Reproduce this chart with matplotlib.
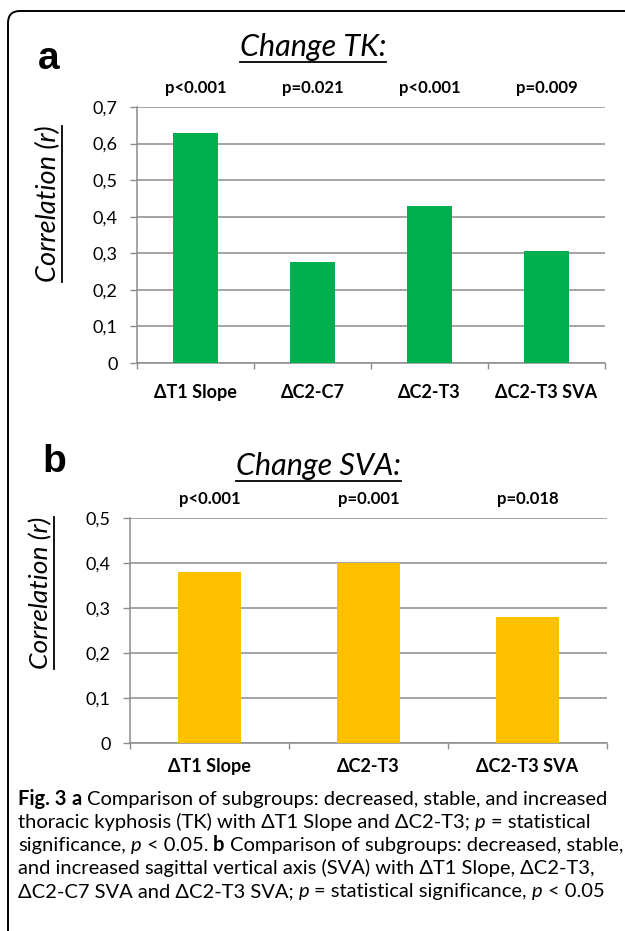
import matplotlib
matplotlib.use('Agg')
import matplotlib.pyplot as plt
from matplotlib.patches import FancyBboxPatch
from matplotlib.lines import Line2D
from matplotlib.transforms import IdentityTransform

# ---------------- data ----------------
tk_categories = ['ΔT1 Slope', 'ΔC2-C7', 'ΔC2-T3', 'ΔC2-T3 SVA']
tk_values = [0.63, 0.275, 0.43, 0.305]
tk_pvalues = ['p<0.001', 'p=0.021', 'p<0.001', 'p=0.009']
tk_yticks = [0.0, 0.1, 0.2, 0.3, 0.4, 0.5, 0.6, 0.7]
tk_yticklabels = ['0', '0,1', '0,2', '0,3', '0,4', '0,5', '0,6', '0,7']

sva_categories = ['ΔT1 Slope', 'ΔC2-T3', 'ΔC2-T3 SVA']
sva_values = [0.38, 0.40, 0.28]
sva_pvalues = ['p<0.001', 'p=0.001', 'p=0.018']
sva_yticks = [0.0, 0.1, 0.2, 0.3, 0.4, 0.5]
sva_yticklabels = ['0', '0,1', '0,2', '0,3', '0,4', '0,5']

caption_lines = [
    [('Fig. 3', 'b'), ('a', 'b'), ('Comparison of subgroups: decreased, stable, and increased', 'r')],
    [('thoracic kyphosis (TK) with ΔT1 Slope and ΔC2-T3;', 'r'), ('p', 'i'), ('= statistical', 'r')],
    [('significance,', 'r'), ('p', 'i'), ('< 0.05.', 'r'), ('b', 'b'),
     ('Comparison of subgroups: decreased, stable,', 'r')],
    [('and increased sagittal vertical axis (SVA) with ΔT1 Slope, ΔC2-T3,', 'r')],
    [('ΔC2-C7 SVA and ΔC2-T3 SVA;', 'r'), ('p', 'i'), ('= statistical significance,', 'r'),
     ('p', 'i'), ('< 0.05', 'r')],
]

GREEN = '#00B050'
YELLOW = '#FFC000'
GRID = '#8c8c8c'
LABEL_FONT = ['Lato', 'DejaVu Sans']

W, H = 625, 931
fig = plt.figure(figsize=(W / 100, H / 100), dpi=100)
renderer = fig.canvas.get_renderer()


def fx(x):
    return x / W


def fy(y):
    return 1 - y / H


def add_axes_px(l, t, r, b):
    return fig.add_axes([fx(l), fy(b), (r - l) / W, (b - t) / H])


def style_axes(ax, cats, vals, pvals, yticks, yticklabels, color, width, xpad):
    n = len(cats)
    x = list(range(n))
    ax.bar(x, vals, width=width, color=color, zorder=3)
    ax.set_xlim(-0.5, n - 0.5)
    ax.set_ylim(yticks[0], yticks[-1])
    ax.set_yticks(yticks)
    ax.set_yticklabels(yticklabels, fontsize=13, family=LABEL_FONT, color='#000000')
    ax.set_xticks(x)
    ax.set_xticklabels(cats, fontsize=13, family=LABEL_FONT, fontweight='bold')
    ax.set_xticks([i - 0.5 for i in range(n + 1)], minor=True)
    ax.tick_params(axis='x', which='major', length=0, pad=xpad)
    ax.tick_params(axis='x', which='minor', length=4, color=GRID, width=1)
    ax.tick_params(axis='y', length=5, color=GRID, width=1, pad=9)
    ax.grid(axis='y', color=GRID, linewidth=1.1, zorder=0)
    ax.set_axisbelow(True)
    for s in ['top', 'right']:
        ax.spines[s].set_visible(False)
    for s in ['left', 'bottom']:
        ax.spines[s].set_color(GRID)
        ax.spines[s].set_linewidth(1.1)
    for i, p in enumerate(pvals):
        ax.annotate(p, xy=(i, 1.0), xycoords=('data', 'axes fraction'),
                    xytext=(0, 19), textcoords='offset pixels',
                    ha='center', va='center', fontsize=12, fontweight='bold',
                    family=LABEL_FONT)


def underlined_text(x, y, s, size, rotation=0, lw=1.3):
    t = fig.text(fx(x), fy(y), s, fontsize=size, style='italic', family=LABEL_FONT,
                 ha='center', va='center', rotation=rotation)
    bb = t.get_window_extent(renderer)
    if rotation == 0:
        yy = bb.y0 - 1
        fig.add_artist(Line2D([bb.x0 / W, bb.x1 / W], [yy / H, yy / H],
                              color='black', lw=lw, transform=fig.transFigure))
    else:
        xx = bb.x1 + 1
        fig.add_artist(Line2D([xx / W, xx / W], [bb.y0 / H, bb.y1 / H],
                              color='black', lw=lw, transform=fig.transFigure))
    return t


# ---------------- frame ----------------
frame = FancyBboxPatch((8, -20), 660, H - 11 + 20,
                       boxstyle='round,pad=0,rounding_size=12',
                       facecolor='none', edgecolor='black', lw=1.4,
                       transform=IdentityTransform())
fig.add_artist(frame)

# ---------------- panel a ----------------
ax1 = add_axes_px(137, 107, 605, 363)
style_axes(ax1, tk_categories, tk_values, tk_pvalues, tk_yticks, tk_yticklabels,
           GREEN, 0.39, 15)

fig.text(fx(49), fy(59), 'a', fontsize=28, fontweight='bold',
         family=['Liberation Sans', 'DejaVu Sans'], ha='center', va='center')
underlined_text(313, 47, 'Change TK:', 22)
underlined_text(48, 204, 'Correlation (r)', 19.5, rotation=90)

# ---------------- panel b ----------------
ax2 = add_axes_px(130, 518, 607, 743)
style_axes(ax2, sva_categories, sva_values, sva_pvalues, sva_yticks, sva_yticklabels,
           YELLOW, 0.40, 11)

fig.text(fx(54), fy(462), 'b', fontsize=28, fontweight='bold',
         family=['Liberation Sans', 'DejaVu Sans'], ha='center', va='center')
underlined_text(318, 466, 'Change SVA:', 22)
underlined_text(41, 593, 'Correlation (r)', 19, rotation=90)

# ---------------- caption ----------------
CAP_FONT = ['Lato', 'DejaVu Sans']
STYLE = {'r': dict(fontweight='normal', style='normal'),
         'b': dict(fontweight='bold', style='normal'),
         'i': dict(fontweight='normal', style='italic')}


def measure(s, size, kind):
    t = fig.text(0, 0, s, fontsize=size, family=CAP_FONT, **STYLE[kind])
    w = t.get_window_extent(renderer).width
    t.remove()
    return w


def line_width(pieces, size):
    sp = measure('x x', size, 'r') - measure('xx', size, 'r')
    return sum(measure(s, size, k) for s, k in pieces) + sp * (len(pieces) - 1)


base = 13.0
cap_size = base * 589 / line_width(caption_lines[0], base)
space_w = measure('x x', cap_size, 'r') - measure('xx', cap_size, 'r')

baselines = [805, 828, 851, 874, 897]
for pieces, yb in zip(caption_lines, baselines):
    x = 18
    for s, k in pieces:
        t = fig.text(fx(x), fy(yb), s, fontsize=cap_size, family=CAP_FONT,
                     va='baseline', ha='left', **STYLE[k])
        x += t.get_window_extent(renderer).width + space_w

fig.savefig('out.png', dpi=100)
